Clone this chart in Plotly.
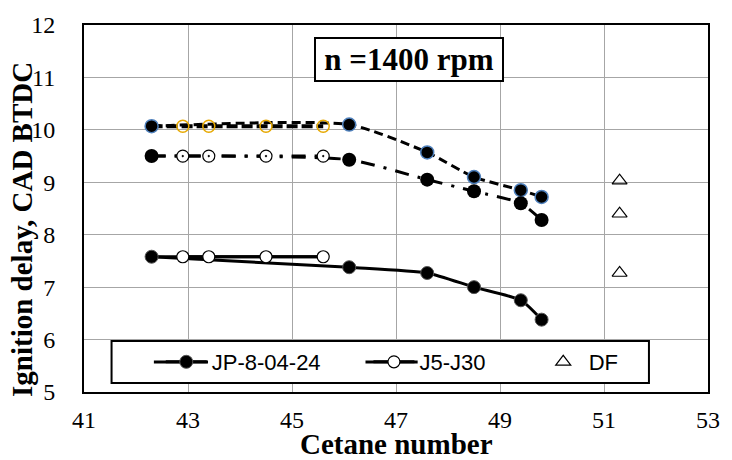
import plotly.graph_objects as go

# ---- data ----
cn_jp8 = [42.3, 46.1, 47.6, 48.5, 49.4, 49.8]
cn_j5 = [42.3, 42.9, 43.4, 44.5, 45.6]
cn_df = [51.3, 51.3, 51.3]

id_jp8_top = [10.07, 10.10, 9.57, 9.10, 8.85, 8.72]
id_jp8_mid = [9.50, 9.43, 9.05, 8.83, 8.60, 8.28]
id_jp8_low = [7.58, 7.38, 7.27, 7.00, 6.75, 6.38]

id_j5_top = [10.07, 10.07, 10.07, 10.07, 10.07]
id_j5_mid = [9.50, 9.50, 9.50, 9.50, 9.50]
id_j5_low = [7.58, 7.58, 7.58, 7.58, 7.58]

id_df = [9.03, 8.40, 7.27]

x_ticks = [41, 43, 45, 47, 49, 51, 53]
y_ticks = [5, 6, 7, 8, 9, 10, 11, 12]

fig = go.Figure()

# J5-J30 lines (drawn first)
fig.add_trace(go.Scatter(x=cn_j5, y=id_j5_top, mode="lines", showlegend=False,
                         line=dict(color="black", width=4, dash="11px,4px")))
fig.add_trace(go.Scatter(x=cn_j5, y=id_j5_mid, mode="lines", showlegend=False,
                         line=dict(color="black", width=3, dash="14px,9px,3px,9px")))
fig.add_trace(go.Scatter(x=cn_j5, y=id_j5_low, mode="lines", showlegend=False,
                         line=dict(color="black", width=3)))

# JP-8 traces
fig.add_trace(go.Scatter(x=cn_jp8, y=id_jp8_top, mode="lines+markers", showlegend=False,
                         line=dict(color="black", width=3, dash="9px,5px", shape="spline", smoothing=0.6),
                         marker=dict(symbol="circle", size=13, color="black",
                                     line=dict(color="#4f81bd", width=1.5))))
fig.add_trace(go.Scatter(x=cn_jp8, y=id_jp8_mid, mode="lines+markers", showlegend=False,
                         line=dict(color="black", width=3, dash="14px,9px,3px,9px", shape="spline", smoothing=0.6),
                         marker=dict(symbol="circle", size=14, color="black")))
fig.add_trace(go.Scatter(x=cn_jp8, y=id_jp8_low, mode="lines+markers", name="JP-8-04-24",
                         legend="legend",
                         line=dict(color="black", width=3, shape="spline", smoothing=0.6),
                         marker=dict(symbol="circle", size=13, color="black",
                                     line=dict(color="#555555", width=1))))

# J5-J30 markers
fig.add_trace(go.Scatter(x=cn_j5[1:], y=id_j5_top[1:], mode="markers", showlegend=False,
                         marker=dict(symbol="circle-open", size=12, color="#e6a800",
                                     line=dict(color="#e6a800", width=1.5))))
fig.add_trace(go.Scatter(x=cn_j5[1:], y=id_j5_mid[1:], mode="markers", showlegend=False,
                         marker=dict(symbol="circle-dot", size=12, color="white",
                                     line=dict(color="black", width=1.2))))
fig.add_trace(go.Scatter(x=cn_j5[1:], y=id_j5_low[1:], mode="lines+markers", name="J5-J30",
                         legend="legend2",
                         line=dict(color="black", width=3),
                         marker=dict(symbol="circle", size=12, color="white",
                                     line=dict(color="black", width=1.2))))

# DF
fig.add_trace(go.Scatter(x=cn_df, y=id_df, mode="markers", name="DF",
                         legend="legend3",
                         marker=dict(symbol="triangle-up-open", size=13, color="black",
                                     line=dict(color="black", width=1.2))))

serif = "Liberation Serif, Times New Roman, serif"
PW, PH, L, B = 634, 367, 84, 68


def px_x(p):
    return (p - L) / PW


def px_y(p):
    return (460 - B - p) / PH


def leg(xpix):
    return dict(orientation="h", x=px_x(xpix), y=px_y(362), xanchor="left", yanchor="middle",
                bgcolor="rgba(0,0,0,0)", borderwidth=0, itemwidth=41,
                font=dict(family="Liberation Sans, Arial, sans-serif", size=22, color="black"))


fig.update_layout(
    width=732, height=460,
    margin=dict(l=L, r=14, t=25, b=B),
    paper_bgcolor="white", plot_bgcolor="white",
    showlegend=True,
    legend=leg(162), legend2=leg(373), legend3=leg(545),
    shapes=[
        dict(type="rect", xref="paper", yref="paper",
             x0=px_x(112), x1=px_x(658), y0=px_y(383), y1=px_y(341),
             fillcolor="white", line=dict(color="black", width=2), layer="above"),
        dict(type="line", xref="paper", yref="paper",
             x0=px_x(155), x1=px_x(210), y0=px_y(362), y1=px_y(362),
             line=dict(color="black", width=3), layer="above"),
        dict(type="line", xref="paper", yref="paper",
             x0=px_x(370), x1=px_x(423), y0=px_y(362), y1=px_y(362),
             line=dict(color="black", width=3), layer="above"),
    ],
    xaxis=dict(range=[41, 53], tickvals=x_ticks, ticktext=[str(v) for v in x_ticks],
               showgrid=True, gridcolor="#a6a6a6", gridwidth=1,
               showline=True, linecolor="black", linewidth=2, mirror=True,
               ticks="", ticklabelstandoff=5, zeroline=False,
               tickfont=dict(family=serif, size=24, color="black")),
    yaxis=dict(range=[5, 12], tickvals=y_ticks, ticktext=[str(v) for v in y_ticks],
               showgrid=True, gridcolor="#a6a6a6", gridwidth=1,
               showline=True, linecolor="black", linewidth=2, mirror=True,
               ticks="", ticklabelstandoff=22, zeroline=False,
               tickfont=dict(family=serif, size=24, color="black")),
    annotations=[
        dict(text="<b>Cetane number</b>", xref="paper", yref="paper", x=0.5, y=px_y(444),
             xanchor="center", yanchor="middle", showarrow=False,
             font=dict(family=serif, size=29, color="black")),
        dict(text="<b>Ignition delay, CAD BTDC</b>", xref="paper", yref="paper", x=px_x(21), y=px_y(229),
             xanchor="center", yanchor="middle", showarrow=False, textangle=-90,
             font=dict(family=serif, size=29, color="black")),
        dict(text="<b>n =1400 rpm</b>", xref="paper", yref="paper", x=px_x(414), y=px_y(59.5),
             xanchor="center", yanchor="middle", showarrow=False,
             bgcolor="white", bordercolor="black", borderwidth=2, borderpad=3,
             width=180, height=35,
             font=dict(family=serif, size=31, color="black")),
    ],
)

fig.write_html("out.html")
